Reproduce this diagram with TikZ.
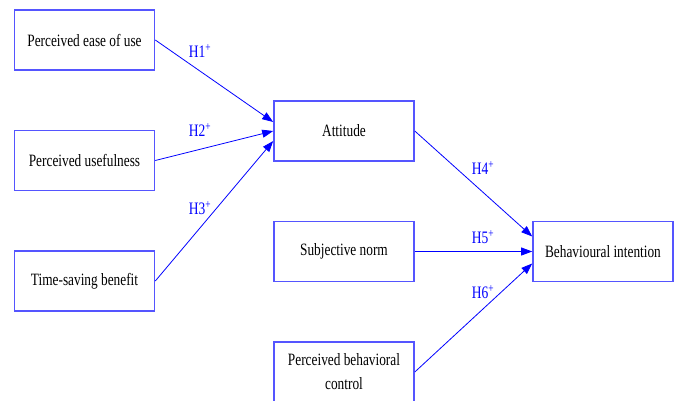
\documentclass[tikz,border=0pt]{standalone}
\usepackage{fontspec}
\setmainfont{Liberation Serif}[FakeStretch=0.77]
\usetikzlibrary{arrows.meta,calc}
\definecolor{boxblue}{RGB}{85,85,255}
\begin{document}
\begin{tikzpicture}[x=1pt,y=-1pt,
  box/.style={draw=boxblue,line width=1.6pt,minimum width=140pt,minimum height=60pt,inner sep=2pt,align=center,font=\fontsize{17.3}{24}\selectfont},
  hyp/.style={font=\fontsize{17.5}{20}\selectfont,text=blue,inner sep=0pt},
  arr/.style={draw=blue,line width=0.8pt,-{Triangle[length=11pt,width=8pt]}}]
\useasboundingbox (0,0) rectangle (675,401);
\node[box] (peou) at (84.5,40) {Perceived ease of use};
\node[box] (pu) at (84.5,160.5) {Perceived usefulness};
\node[box] (tsb) at (84.5,281) {Time-saving benefit};
\node[box] (att) at (344,131) {Attitude};
\node[box] (sn) at (344,251.5) {Subjective norm};
\node[box] (pbc) at (344,372) {Perceived behavioral\\control};
\node[box] (bi) at (603,251.5) {Behavioural intention};
\coordinate (a1) at ($(att.west)+(0,-9)$);
\coordinate (a3) at ($(att.west)+(0,10)$);
\coordinate (b1) at ($(bi.west)+(0,-15)$);
\coordinate (b3) at ($(bi.west)+(0,12)$);
\draw[arr] (peou.east) -- (a1);
\draw[arr] (pu.east) -- (att.west);
\draw[arr] (tsb.east) -- (a3);
\draw[arr] (att.east) -- (b1);
\draw[arr] (sn.east) -- (bi.west);
\draw[arr] (pbc.east) -- (b3);
\node[hyp] (h1) at (200,51) {H1\textsuperscript{+}};
\node[hyp] (h2) at (200,130) {H2\textsuperscript{+}};
\node[hyp] (h3) at (200,208) {H3\textsuperscript{+}};
\node[hyp] (h4) at (483,168) {H4\textsuperscript{+}};
\node[hyp] (h5) at (483,237) {H5\textsuperscript{+}};
\node[hyp] (h6) at (483,292) {H6\textsuperscript{+}};
\end{tikzpicture}
\end{document}
